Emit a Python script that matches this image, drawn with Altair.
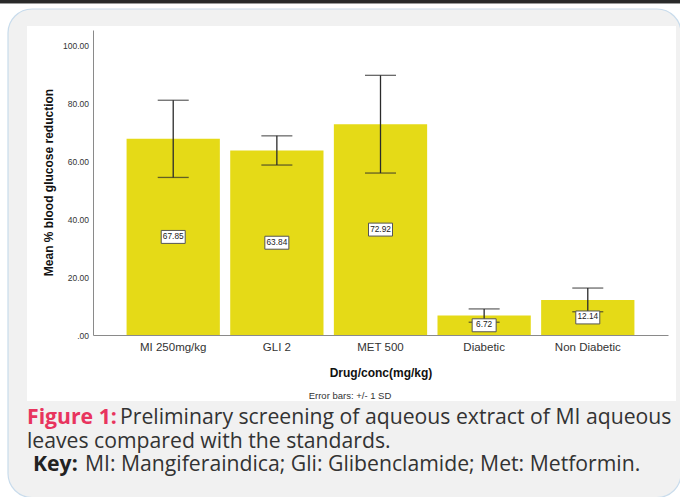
import altair as alt
import pandas as pd

# Mean % reduction in blood glucose per treatment group, with +/- 1 SD
groups = ["MI 250mg/kg", "GLI 2", "MET 500", "Diabetic", "Non Diabetic"]
means = [67.85, 63.84, 72.92, 6.72, 12.14]
sds = [13.35, 5.05, 16.9, 2.3, 4.1]
y_ticks = [0, 20, 40, 60, 80, 100]

df = pd.DataFrame({"group": groups, "mean": means, "sd": sds})
df["lo"] = df["mean"] - df["sd"]
df["hi"] = df["mean"] + df["sd"]
df["mid"] = df["mean"] / 2
df["label"] = df["mean"].map(lambda v: f"{v:.2f}")

PLOT_W, PLOT_H = 575, 305
PAD = {"left": 93, "top": 30, "right": 12, "bottom": 162}

FONT = "Liberation Sans"
CAP_FONT = "Open Sans"
CAP_SIZE = 21.2
BAR = "#e5da17"
INK = "#2b2b2b"

one = pd.DataFrame({"k": [0]})


def frame_rect(x, x2, y, y2, fill, stroke=None, radius=0, sw=1):
    kw = dict(fill=fill, cornerRadius=radius)
    if stroke:
        kw.update(stroke=stroke, strokeWidth=sw)
    else:
        kw.update(strokeWidth=0)
    return alt.Chart(one).mark_rect(**kw).encode(
        x=alt.value(x), x2=alt.value(x2), y=alt.value(y), y2=alt.value(y2)
    )


def caption(text, x, y, color="#333333", weight="normal", size=CAP_SIZE):
    return alt.Chart(one).mark_text(
        text=text, font=CAP_FONT, fontSize=size, fontWeight=weight,
        color=color, align="left", baseline="alphabetic"
    ).encode(x=alt.value(x), y=alt.value(y))


# page decoration: rule at top, grey card, white figure panel
top_rule = frame_rect(-93, 587, -30, -27, "#2a2a2a")
top_rule2 = frame_rect(-93, 587, -27, -26, "#9a9a9a")
card = frame_rect(-85, 588, -21, 467.5, "#f1f1f1", stroke="#c9dcec", radius=24, sw=1.2)
panel = frame_rect(-66, 583, -4, 371, "#ffffff")

x_enc = alt.X(
    "group:N", sort=groups, title="Drug/conc(mg/kg)",
    scale=alt.Scale(paddingInner=0.1, paddingOuter=0.324),
    axis=alt.Axis(
        labelAngle=0, ticks=False, domainColor="#8a8a8a", labelFont=FONT,
        labelFontSize=11.5, labelColor="#333333", labelPadding=6,
        titleFont=FONT, titleFontSize=12, titleFontWeight="bold",
        titleColor="#111111", titleY=37, titleBaseline="middle", zindex=1,
    ),
)
y_scale = alt.Scale(domain=[0, 105.5], nice=False)
y_axis = alt.Axis(
    values=y_ticks, grid=False, ticks=False, domainColor="#8a8a8a",
    labelExpr="datum.value == 0 ? '.00' : format(datum.value, '.2f')",
    labelFont=FONT, labelFontSize=8.5, labelColor="#333333", labelPadding=4.5,
    title="Mean % blood glucose reduction", titleFont=FONT, titleFontSize=12,
    titleFontWeight="bold", titleColor="#111111", titleAngle=270,
    titleX=-45, titleY=152, titleAlign="center", titleBaseline="middle",
    zindex=1,
)

base = alt.Chart(df)

bars = base.mark_bar(color=BAR).encode(
    x=x_enc, y=alt.Y("mean:Q", scale=y_scale, axis=y_axis)
)
err = base.mark_rule(color=INK, strokeWidth=1.3).encode(
    x=alt.X("group:N", sort=groups), y="lo:Q", y2="hi:Q"
)
cap_hi = base.mark_tick(color=INK, size=31, thickness=1.3).encode(
    x=alt.X("group:N", sort=groups), y="hi:Q"
)
cap_lo = base.mark_tick(color=INK, size=31, thickness=1.3).encode(
    x=alt.X("group:N", sort=groups), y="lo:Q"
)
boxes = base.mark_point(
    shape="M-1,-0.54L1,-0.54L1,0.54L-1,0.54Z", size=576, filled=True,
    fill="white", stroke="#555555", strokeWidth=1, opacity=1,
).encode(x=alt.X("group:N", sort=groups), y="mid:Q")
labels = base.mark_text(font=FONT, fontSize=8.3, color="#222222").encode(
    x=alt.X("group:N", sort=groups), y="mid:Q", text="label:N"
)

note = alt.Chart(one).mark_text(
    text="Error bars:  +/- 1 SD", font=FONT, fontSize=9.5, color="#333333",
    align="center", baseline="middle",
).encode(x=alt.value(257), y=alt.value(366))

cap1a = caption("Figure 1:", -66, 394, color="#e8345e", weight="bold")
cap1b = caption("Preliminary screening of aqueous extract of MI aqueous", 27, 394)
cap2 = caption("leaves compared with the standards.", -66, 418)
cap3a = caption("Key:", -60, 441, color="#222222", weight="bold")
cap3b = caption("MI: Mangiferaindica; Gli: Glibenclamide; Met: Metformin.", -8, 441)

chart = alt.layer(
    top_rule, top_rule2, card, panel,
    bars, err, cap_hi, cap_lo, boxes, labels, note,
    cap1a, cap1b, cap2, cap3a, cap3b,
).properties(
    width=PLOT_W, height=PLOT_H, padding=PAD, autosize="none", background="white"
).configure_view(stroke=None)

chart.save("out.html", embed_options={"renderer": "svg", "actions": False})
